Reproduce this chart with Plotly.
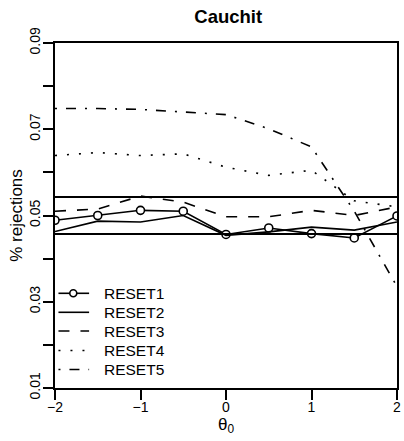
import plotly.graph_objects as go

theta0 = [-2.0, -1.5, -1.0, -0.5, 0.0, 0.5, 1.0, 1.5, 2.0]

reset1 = [0.0489, 0.0500, 0.0512, 0.0510, 0.0456, 0.0471, 0.0458, 0.0448, 0.0499]
reset2 = [0.0463, 0.0487, 0.0485, 0.0500, 0.0454, 0.0462, 0.0473, 0.0466, 0.0485]
reset3 = [0.0510, 0.0515, 0.0545, 0.0531, 0.0497, 0.0497, 0.0512, 0.0500, 0.0520]
reset4 = [0.0639, 0.0646, 0.0639, 0.0643, 0.0612, 0.0593, 0.0605, 0.0534, 0.0520]
reset5 = [0.0748, 0.0748, 0.0746, 0.0740, 0.0734, 0.0701, 0.0659, 0.0510, 0.0335]

series_names = ["RESET1", "RESET2", "RESET3", "RESET4", "RESET5"]
series_values = [reset1, reset2, reset3, reset4, reset5]

# nominal 5% level band
bounds = [0.0457, 0.0543]

x_ticks = [-2, -1, 0, 1, 2]
x_ticktext = ["\u22122", "\u22121", "0", "1", "2"]
y_ticks = [0.01, 0.02, 0.03, 0.04, 0.05, 0.06, 0.07, 0.08, 0.09]
y_ticktext = ["0.01", "", "0.03", "", "0.05", "", "0.07", "", "0.09"]

FONT = "Liberation Sans, Arial, sans-serif"
LW = 1.6
dashes = ["solid", "solid", "11px,11px", "2px,10px", "2px,9px,10px,9px"]
with_markers = [True, False, False, False, False]

W, H = 404, 441
M = dict(l=55, r=3, t=43, b=53)
PW = W - M["l"] - M["r"]
PH = H - M["t"] - M["b"]


def px_to_paper(px, py):
    return (px - M["l"]) / PW, (H - M["b"] - py) / PH


fig = go.Figure()

for name, vals, dash, mk in zip(series_names, series_values, dashes, with_markers):
    fig.add_trace(go.Scatter(
        x=theta0, y=vals, name=name,
        mode="lines+markers" if mk else "lines",
        line=dict(color="black", width=LW, dash=dash),
        marker=dict(symbol="circle", size=8, color="white",
                    line=dict(color="black", width=LW)),
        showlegend=False,
    ))

for b in bounds:
    fig.add_shape(type="line", xref="paper", x0=0, x1=1, yref="y", y0=b, y1=b,
                  line=dict(color="black", width=2))

# key box in the lower left corner
row_y = [293.3, 312.3, 331.0, 350.5, 369.5]
for name, dash, mk, ry in zip(series_names, dashes, with_markers, row_y):
    xa, ya = px_to_paper(58.5, ry)
    xb, _ = px_to_paper(89.5, ry)
    fig.add_shape(type="line", xref="paper", yref="paper",
                  x0=xa, x1=xb, y0=ya, y1=ya,
                  line=dict(color="black", width=LW, dash=dash))
    if mk:
        xc, _ = px_to_paper(73.5, ry)
        fig.add_shape(type="circle", xref="paper", yref="paper",
                      xsizemode="pixel", ysizemode="pixel",
                      xanchor=xc, yanchor=ya, x0=-3.5, x1=3.5, y0=-3.5, y1=3.5,
                      fillcolor="white", line=dict(color="black", width=LW))
    xt, _ = px_to_paper(102.5, ry)
    fig.add_annotation(text=name, xref="paper", yref="paper", x=xt, y=ya,
                       xanchor="left", yanchor="middle", showarrow=False,
                       font=dict(size=15.5))

fig.update_layout(
    width=W, height=H,
    margin=M,
    paper_bgcolor="white", plot_bgcolor="white",
    font=dict(family=FONT, size=14, color="black"),
    title=dict(text="<b>Cauchit</b>", x=0.565, xanchor="center",
               y=0.962, yanchor="middle", font=dict(size=18.5)),
    showlegend=False,
    xaxis=dict(range=[-2, 2], tickvals=x_ticks, ticktext=x_ticktext,
               ticks="outside", ticklen=10, tickwidth=2, tickcolor="black",
               ticklabelstandoff=-5,
               showline=True, linewidth=2, linecolor="black", mirror=True,
               showgrid=False, zeroline=False,
               title=dict(text="\u03b8<sub>0</sub>", standoff=3)),
    yaxis=dict(range=[0.01, 0.09], tickvals=y_ticks, ticktext=y_ticktext,
               tickangle=-90,
               ticks="outside", ticklen=10, tickwidth=2, tickcolor="black",
               ticklabelstandoff=-3,
               showline=True, linewidth=2, linecolor="black", mirror=True,
               showgrid=False, zeroline=False,
               title=dict(text="% rejections", standoff=0)),
)

fig.write_html("out.html")
